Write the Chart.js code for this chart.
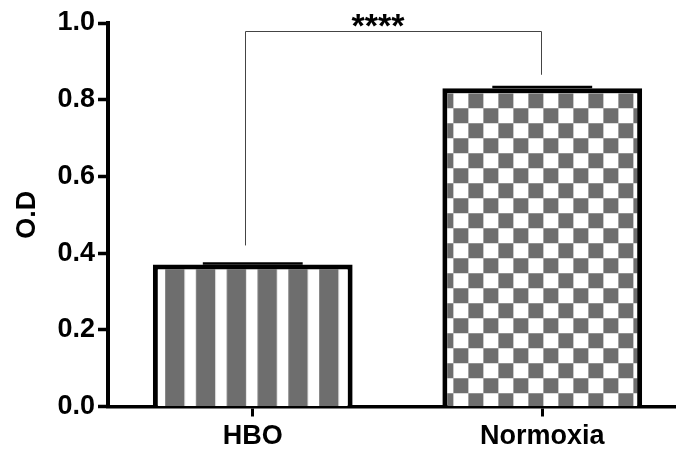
<!DOCTYPE html>
<html>
<head>
<meta charset="utf-8">
<script src="https://cdn.jsdelivr.net/npm/chart.js@4"></script>
<style>
  html, body { margin: 0; padding: 0; background: #fff; overflow: hidden; }
  canvas { display: block; }
</style>
</head>
<body>
<canvas id="chart" width="690" height="454"></canvas>
<script>
// Optical density per condition (mean and SEM)
const categories = ['HBO', 'Normoxia'];
const odMeans = [0.37, 0.83];
const odErrors = [0.003, 0.003];
const yTickValues = [0, 0.2, 0.4, 0.6, 0.8, 1.0];

// Significance bracket between the two groups
const bracketLevel = 0.98;
const bracketLegEnds = [0.42, 0.865];
const significanceLabel = '****';

const GRAY = '#6e6e6e';
const FONT = 'Liberation Sans, Arial, Helvetica, sans-serif';

// Vertical stripe tile: 5 periods of 30.8 px, 19.3 px gray each
function makeStripeTile() {
  const c = document.createElement('canvas');
  c.width = 154; c.height = 4;
  const g = c.getContext('2d');
  g.fillStyle = '#fff'; g.fillRect(0, 0, c.width, c.height);
  g.fillStyle = GRAY;
  for (let k = 0; k < 5; k++) g.fillRect(k * 30.8, 0, 19.3, c.height);
  return c;
}

// Checkerboard tile: 15 px squares
function makeCheckerTile() {
  const c = document.createElement('canvas');
  c.width = 30; c.height = 30;
  const g = c.getContext('2d');
  g.fillStyle = '#fff'; g.fillRect(0, 0, 30, 30);
  g.fillStyle = GRAY;
  g.fillRect(15, 0, 15, 15);
  g.fillRect(0, 15, 15, 15);
  return c;
}

const ctx = document.getElementById('chart').getContext('2d');
const stripePattern = ctx.createPattern(makeStripeTile(), 'repeat');
const checkerPattern = ctx.createPattern(makeCheckerTile(), 'repeat');
// offsets of each fill pattern from the bar's outer top-left corner
const patternOffsets = [[12.3, 0], [11, 5]];

const patternAlign = {
  id: 'patternAlign',
  beforeDatasetsDraw(chart) {
    const meta = chart.getDatasetMeta(0);
    const pats = [stripePattern, checkerPattern];
    meta.data.forEach((bar, i) => {
      const left = bar.x - bar.width / 2;
      const top = bar.y;
      pats[i].setTransform(new DOMMatrix().translate(left + patternOffsets[i][0], top + patternOffsets[i][1]));
    });
  }
};

const errorCaps = {
  id: 'errorCaps',
  afterDatasetsDraw(chart) {
    const { ctx, scales: { y } } = chart;
    const meta = chart.getDatasetMeta(0);
    ctx.save();
    ctx.strokeStyle = '#000';
    ctx.lineWidth = 2.5;
    meta.data.forEach((bar, i) => {
      const yTop = y.getPixelForValue(odMeans[i] + odErrors[i]);
      const yMid = y.getPixelForValue(odMeans[i]);
      const half = bar.width / 4;
      ctx.beginPath();
      ctx.moveTo(bar.x, yMid);
      ctx.lineTo(bar.x, yTop);
      ctx.moveTo(bar.x - half, yTop);
      ctx.lineTo(bar.x + half, yTop);
      ctx.stroke();
    });
    ctx.restore();
  }
};

const significance = {
  id: 'significance',
  afterDatasetsDraw(chart) {
    const { ctx, scales: { x, y } } = chart;
    const x0 = x.getPixelForValue(0) - 8;
    const x1 = x.getPixelForValue(1) - 1;
    const yb = y.getPixelForValue(bracketLevel);
    const yl = y.getPixelForValue(bracketLegEnds[0]);
    const yr = y.getPixelForValue(bracketLegEnds[1]);
    ctx.save();
    ctx.strokeStyle = '#444';
    ctx.lineWidth = 1;
    ctx.beginPath();
    ctx.moveTo(Math.round(x0) + 0.5, yl);
    ctx.lineTo(Math.round(x0) + 0.5, Math.round(yb) + 0.5);
    ctx.lineTo(Math.round(x1) + 0.5, Math.round(yb) + 0.5);
    ctx.lineTo(Math.round(x1) + 0.5, yr);
    ctx.stroke();
    ctx.fillStyle = '#000';
    ctx.font = 'bold 34px ' + FONT;
    ctx.textAlign = 'center';
    ctx.textBaseline = 'alphabetic';
    ctx.fillText(significanceLabel, (x0 + x1) / 2 - 15, yb + 6);
    ctx.restore();
  }
};

new Chart(ctx, {
  type: 'bar',
  data: {
    labels: categories,
    datasets: [{
      data: odMeans,
      backgroundColor: [stripePattern, checkerPattern],
      borderColor: '#000',
      borderWidth: 5,
      borderSkipped: 'start',
      barPercentage: 0.69,
      categoryPercentage: 1.0
    }]
  },
  options: {
    responsive: false,
    animation: false,
    devicePixelRatio: 1,
    layout: { padding: { left: 0, top: 23, right: 3, bottom: 0 } },
    plugins: { legend: { display: false }, tooltip: { enabled: false } },
    scales: {
      x: {
        z: 1,
        offset: true,
        grid: { offset: false, drawOnChartArea: false, drawTicks: true, tickLength: 10, tickWidth: 3, tickColor: '#000' },
        border: { display: true, width: 3.5, color: '#000' },
        ticks: { color: '#000', font: { family: FONT, size: 27, weight: 'bold' }, padding: 4, maxRotation: 0 },
        afterFit(scale) { scale.height = 47.5; }
      },
      y: {
        z: 1,
        min: 0,
        max: 1,
        afterBuildTicks(scale) { scale.ticks = yTickValues.map(v => ({ value: v })); },
        grid: { drawOnChartArea: false, drawTicks: true, tickLength: 10, tickWidth: 3.5, tickColor: '#000' },
        border: { display: true, width: 4, color: '#000' },
        ticks: {
          color: '#000',
          font: { family: FONT, size: 27, weight: 'bold' },
          padding: 3,
          callback: v => Number(v).toFixed(1)
        },
        title: {
          display: true,
          text: 'O.D',
          color: '#000',
          font: { family: FONT, size: 27, weight: 'bold' },
          padding: { top: 11, bottom: 0 }
        },
        afterFit(scale) { scale.width = 108; }
      }
    }
  },
  plugins: [patternAlign, errorCaps, significance]
});
</script>
</body>
</html>
